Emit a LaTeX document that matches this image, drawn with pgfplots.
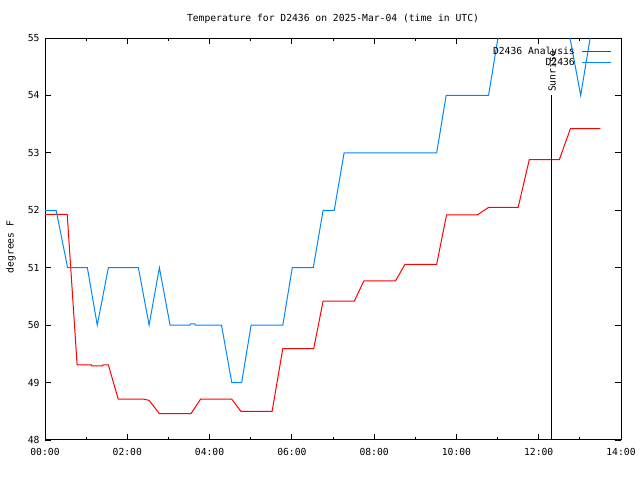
\documentclass[border=0pt]{standalone}
\usepackage{fontspec}
\setmainfont{DejaVu Sans Mono}
\usepackage{pgfplots}
\pgfplotsset{compat=1.18}
\definecolor{gblue}{RGB}{0,136,255}
\definecolor{gred}{RGB}{255,0,0}
\newcommand{\gfont}{\fontsize{9.7bp}{11.6bp}\selectfont}
\begin{document}
\gfont
\begin{tikzpicture}
\useasboundingbox (-45bp,-40bp) rectangle (595bp,440bp);
\begin{axis}[
  at={(0,0)}, anchor=south west,
  scale only axis, width=576bp, height=402bp,
  xmin=0, xmax=14, ymin=48, ymax=55,
  axis line style={line width=1bp},
  tick style={black, line width=0.8bp},
  tick align=inside,
  major tick length=6bp, minor tick length=3bp,
  xtick={0,2,4,6,8,10,12,14},
  xticklabels={00:00,02:00,04:00,06:00,08:00,10:00,12:00,14:00},
  minor xtick={1,3,5,7,9,11,13},
  ytick={48,49,50,51,52,53,54,55},
  /pgf/number format/assume math mode=true,
  ticklabel style={font=\gfont},
  xticklabel style={yshift=-5bp},
  yticklabel style={xshift=-2bp},
  legend style={draw=none, fill=none, at={(rel axis cs:1,1)}, anchor=north east,
    xshift=-9bp, yshift=-7bp, font=\gfont, row sep=-2bp, inner sep=0pt},
  legend cell align=right,
  legend plot pos=right,
  legend image code/.code={\path (0bp,0bp); \draw[#1, line width=1bp] (5bp,0bp) -- (34bp,0bp);},
]
\addplot[gred, line width=1bp] coordinates {
(0,51.93) (0.54,51.93) (0.78,49.31) (1.13,49.31) (1.14,49.29) (1.40,49.29) (1.41,49.31) (1.54,49.31)
(1.78,48.71) (2.41,48.71) (2.53,48.69) (2.78,48.46) (3.55,48.46) (3.78,48.71) (4.54,48.71)
(4.76,48.50) (5.52,48.50) (5.78,49.59) (6.53,49.59) (6.76,50.42) (7.52,50.42) (7.75,50.77)
(8.52,50.77) (8.75,51.06) (9.52,51.06) (9.76,51.92) (10.51,51.92) (10.78,52.05) (11.50,52.05)
(11.77,52.88) (12.50,52.88) (12.77,53.42) (13.50,53.42)
};
\addlegendentry{D2436 Analysis}
\addplot[gblue, line width=1bp] coordinates {
(0,52) (0.27,52) (0.55,51) (1.03,51) (1.27,50) (1.54,51) (2.27,51) (2.53,50) (2.78,51) (3.04,50)
(3.52,50) (3.54,50.02) (3.64,50.02) (3.66,50) (4.29,50) (4.54,49) (4.78,49) (5.01,50) (5.78,50)
(6.01,51) (6.52,51) (6.76,52) (7.03,52) (7.27,53) (9.52,53) (9.75,54) (10.78,54) (11.01,55)
(11.25,56) (12.52,56) (12.76,55) (13.02,54) (13.25,55) (13.48,56)
};
\addlegendentry{D2436}
\addplot[black, line width=1bp, forget plot] coordinates {(12.32,48) (12.32,54)};
\node[rotate=90, anchor=west, font=\gfont] at (axis cs:12.32,54) {Sunrise};
\end{axis}
\node[anchor=base, font=\gfont] at (288bp,418bp) {Temperature for D2436 on 2025-Mar-04 (time in UTC)};
\node[rotate=90, font=\gfont] at (-34bp,193bp) {degrees F};
\end{tikzpicture}
\end{document}
